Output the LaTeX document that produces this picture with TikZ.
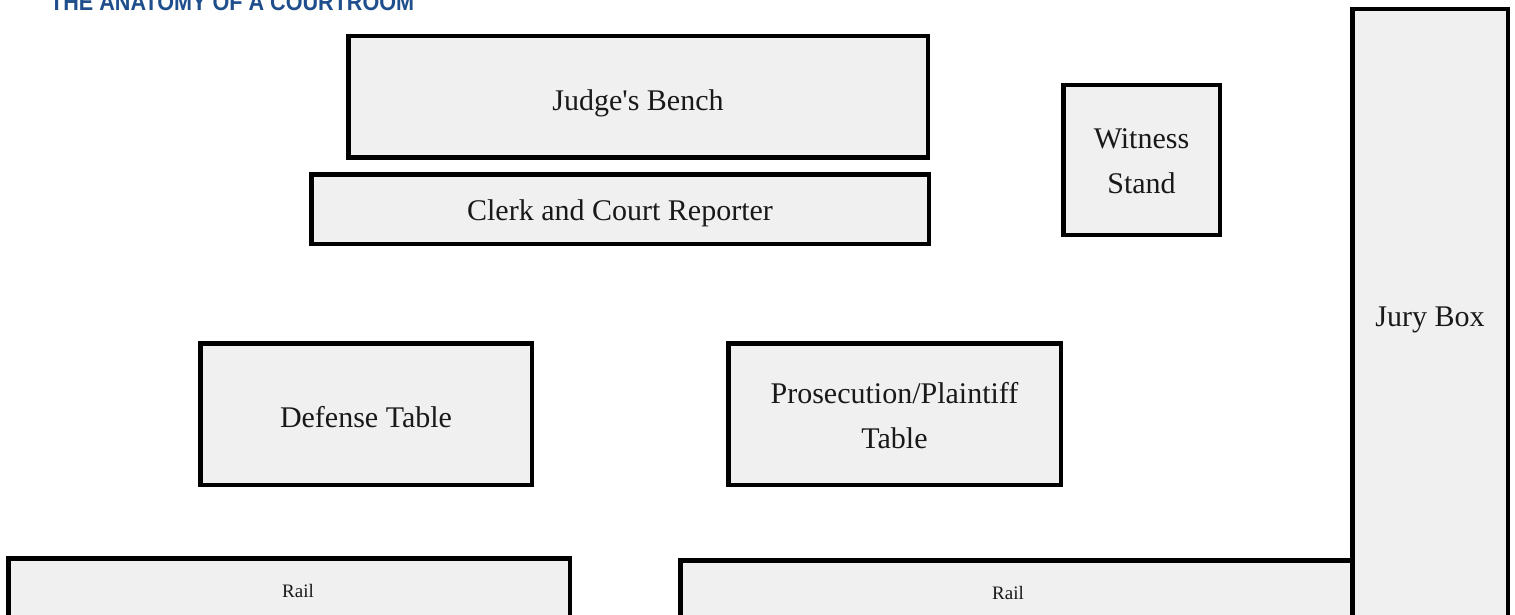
\documentclass[tikz,border=0pt]{standalone}
\usepackage{fontspec}
\usepackage{graphicx}
\setmainfont{Liberation Serif}
\newfontfamily\labelfont{Liberation Serif}
\newfontfamily\titlefont{Liberation Sans}
\definecolor{boxfill}{HTML}{F0F0F0}
\definecolor{titleblue}{HTML}{1F4E8C}
\tikzset{
  roombox/.style={draw=black, fill=boxfill, line width=4.5pt, inner sep=0pt, rectangle},
  lbl/.style={font=\labelfont\fontsize{30}{44}\selectfont, align=center, inner sep=0pt, anchor=base, text=black!90},
  raillbl/.style={font=\labelfont\fontsize{19}{22}\selectfont, inner sep=0pt, anchor=base, text=black!90},
}
\begin{document}
\begin{tikzpicture}[x=1pt, y=-1pt]
\useasboundingbox (0,0) rectangle (1515,615);
\clip (0,0) rectangle (1515,615);
\fill[white] (0,0) rectangle (1515,615);
% title (cut off at the top edge, as in the reference)
\node[anchor=base west, inner sep=0pt, text=titleblue, font=\titlefont\bfseries\fontsize{24}{24}\selectfont] (title) at (50,11) {\scalebox{0.9}[1]{THE ANATOMY OF A COURTROOM}};
% boxes
\node[roombox, minimum width=579.5pt, minimum height=121.5pt] (bench) at (638,97) {};
\node[roombox, minimum width=617.5pt, minimum height=69.5pt] (clerk) at (620,209) {};
\node[roombox, minimum width=156.5pt, minimum height=149.5pt] (witness) at (1141.5,160) {};
\node[roombox, minimum width=331.5pt, minimum height=141.5pt] (defense) at (366,414) {};
\node[roombox, minimum width=332.5pt, minimum height=141.5pt] (prosecution) at (894.5,414) {};
\node[roombox, minimum width=561.5pt, minimum height=115.5pt] (railL) at (289,616) {};
\node[roombox, minimum width=671.5pt, minimum height=115.5pt] (railR) at (1016,618) {};
\node[roombox, minimum width=155.5pt, minimum height=688.5pt] (jury) at (1430,353.5) {};
% labels
\node[lbl] (benchT) at (638,111) {Judge's Bench};
\node[lbl] (clerkT) at (620,220) {Clerk and Court Reporter};
\node[lbl] (witnessT1) at (1141.5,149) {Witness};
\node[lbl] (witnessT2) at (1141.5,193) {Stand};
\node[lbl] (juryT) at (1430,326) {Jury Box};
\node[lbl] (defenseT) at (366,427) {Defense Table};
\node[lbl] (prosT1) at (894.5,403) {Prosecution/Plaintiff};
\node[lbl] (prosT2) at (894.5,448) {Table};
\node[raillbl] (railLT) at (298,597) {Rail};
\node[raillbl] (railRT) at (1008,599) {Rail};
\end{tikzpicture}
\end{document}
